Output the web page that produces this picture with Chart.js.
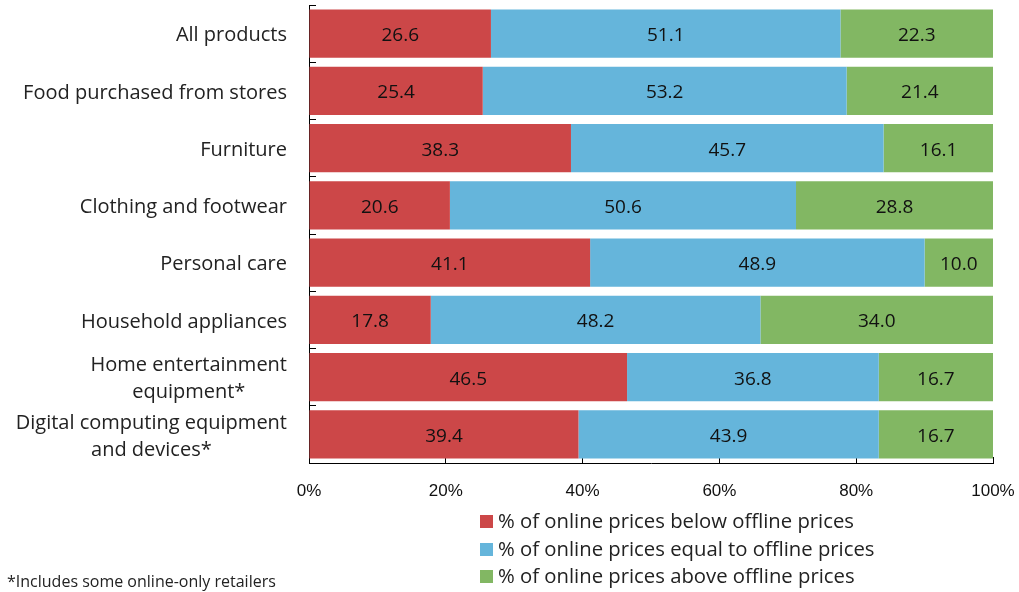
<!DOCTYPE html>
<html>
<head>
<meta charset="utf-8">
<script src="https://cdn.jsdelivr.net/npm/chart.js@4/dist/chart.umd.min.js"></script>
<style>
  body { margin: 0; background: #fff; font-family: "Open Sans", sans-serif; }
  #wrap { position: relative; width: 1019px; height: 592px; }
  #legend { position: absolute; left: 480px; top: 507px; font-size: 20.3px; color: #222; }
  #legend div { height: 27.5px; line-height: 27.5px; white-space: nowrap; }
  #legend span { display: inline-block; width: 13px; height: 13px; margin-right: 5px; vertical-align: 0px; }
  #note { position: absolute; left: 7px; top: 570px; font-size: 16px; color: #222; }
</style>
</head>
<body>
<div id="wrap">
  <canvas id="chart" width="1019" height="592"></canvas>
  <div id="legend"></div>
  <div id="note">*Includes some online-only retailers</div>
</div>
<script>
const categories = [
  'All products',
  'Food purchased from stores',
  'Furniture',
  'Clothing and footwear',
  'Personal care',
  'Household appliances',
  ['Home entertainment', 'equipment*'],
  ['Digital computing equipment', 'and devices*']
];
const belowValues = [26.6, 25.4, 38.3, 20.6, 41.1, 17.8, 46.5, 39.4];
const equalValues = [51.1, 53.2, 45.7, 50.6, 48.9, 48.2, 36.8, 43.9];
const aboveValues = [22.3, 21.4, 16.1, 28.8, 10.0, 34.0, 16.7, 16.7];
const seriesNames = [
  '% of online prices below offline prices',
  '% of online prices equal to offline prices',
  '% of online prices above offline prices'
];
const colors = ['#CC4748', '#65B5DB', '#82B763'];

// values written in the middle of each bar segment
const barLabels = {
  id: 'barLabels',
  afterDatasetsDraw(chart) {
    const ctx = chart.ctx;
    ctx.save();
    ctx.font = '19px "Open Sans", sans-serif';
    ctx.fillStyle = '#111';
    ctx.textAlign = 'center';
    ctx.textBaseline = 'middle';
    chart.data.datasets.forEach((ds, i) => {
      chart.getDatasetMeta(i).data.forEach((bar, j) => {
        const x = (bar.x + bar.base) / 2;
        ctx.fillText(ds.data[j].toFixed(1), x, bar.y + 2);
      });
    });
    ctx.restore();
  }
};

// category names: block is right aligned, lines are centred within it
const catLabels = {
  id: 'catLabels',
  afterDraw(chart) {
    const ctx = chart.ctx;
    const y = chart.scales.y;
    const right = y.right - 22;
    const lineH = 27;
    ctx.save();
    ctx.font = '20px "Open Sans", sans-serif';
    ctx.fillStyle = '#222';
    ctx.textAlign = 'center';
    ctx.textBaseline = 'middle';
    categories.forEach((cat, i) => {
      const lines = Array.isArray(cat) ? cat : [cat];
      const w = Math.max(...lines.map(l => ctx.measureText(l).width));
      const cy = y.getPixelForTick(i) + 2;
      lines.forEach((l, k) => {
        ctx.fillText(l, right - w / 2, cy + (k - (lines.length - 1) / 2) * lineH);
      });
    });
    ctx.restore();
  }
};

const data = {
  labels: categories,
  datasets: [
    { label: seriesNames[0], data: belowValues, backgroundColor: colors[0] },
    { label: seriesNames[1], data: equalValues, backgroundColor: colors[1] },
    { label: seriesNames[2], data: aboveValues, backgroundColor: colors[2] }
  ]
};

new Chart(document.getElementById('chart'), {
  type: 'bar',
  data: data,
  plugins: [barLabels, catLabels],
  options: {
    indexAxis: 'y',
    responsive: false,
    animation: false,
    layout: { padding: { top: 5, right: 26, bottom: 90, left: 0 } },
    datasets: { bar: { categoryPercentage: 1, barPercentage: 0.84, borderWidth: 0 } },
    plugins: { legend: { display: false }, tooltip: { enabled: false } },
    scales: {
      x: {
        stacked: true,
        min: 0,
        max: 100,
        ticks: {
          stepSize: 20,
          padding: 24,
          color: '#111',
          font: { family: '"Liberation Sans", Arial, sans-serif', size: 17 },
          callback: v => v + '%'
        },
        // negative tick length -> ticks point into the plot
        grid: { drawOnChartArea: false, tickLength: -6, color: '#000' },
        border: { color: '#000', width: 1 },
        afterFit: scale => { scale.height = 39; scale.paddingLeft = 0; scale.paddingRight = 0; }
      },
      y: {
        stacked: true,
        ticks: { autoSkip: false, display: false },
        grid: { offset: true, drawOnChartArea: false, tickLength: -7, color: '#000' },
        border: { color: '#000', width: 1 },
        afterFit: scale => { scale.width = 309; scale.paddingTop = 0; scale.paddingBottom = 0; }
      }
    }
  }
});

const legend = document.getElementById('legend');
seriesNames.forEach((name, i) => {
  const row = document.createElement('div');
  row.innerHTML = '<span style="background:' + colors[i] + '"></span>' + name;
  legend.appendChild(row);
});
</script>
</body>
</html>
